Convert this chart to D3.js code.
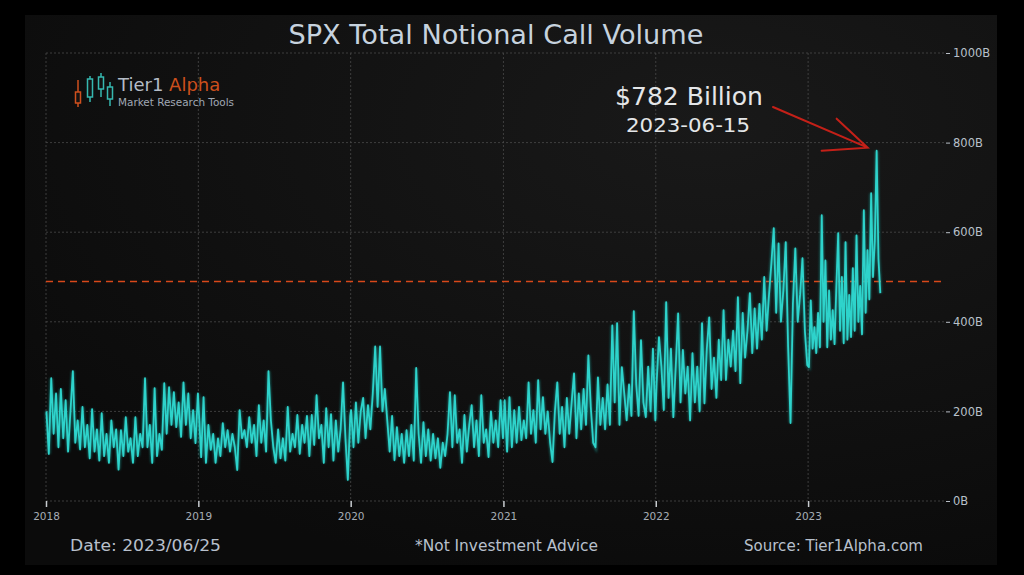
<!DOCTYPE html>
<html>
<head>
<meta charset="utf-8">
<script src="https://cdn.jsdelivr.net/npm/d3@7"></script>
<style>
  html, body { margin: 0; padding: 0; background: #000; }
  svg { display: block; }
</style>
</head>
<body>
<svg id="chart" width="1024" height="575"></svg>
<script>
// Daily SPX notional call volume (billions), spread across each year
const values2018 = [200, 105, 274, 150, 240, 120, 250, 140, 225, 110, 200, 290, 130, 180, 115, 210,
  120, 170, 95, 205, 110, 160, 90, 196, 100, 150, 85, 180, 120, 160, 70, 158,
  100, 187, 110, 140, 85, 187, 100, 150, 120, 274, 120, 170, 85, 252, 100, 150,
  114, 263, 150, 254, 170, 243, 165, 220, 143, 265, 170, 240, 140, 203, 129, 240];
const values2019 = [203, 98, 232, 85, 170, 114, 150, 85, 140, 100, 174, 120, 158, 110, 150, 120,
  69, 203, 140, 158, 120, 187, 130, 170, 100, 214, 130, 180, 110, 290, 180, 120,
  85, 160, 95, 140, 90, 210, 110, 150, 120, 192, 105, 170, 130, 190, 100, 192,
  125, 236, 140, 170, 85, 207, 120, 194, 90, 180, 110, 160, 265, 140, 47, 190];
const values2020 = [203, 120, 220, 130, 200, 230, 140, 214, 160, 240, 345, 210, 345, 200, 250, 180,
  110, 190, 91, 165, 100, 150, 85, 158, 100, 170, 90, 297, 150, 85, 176, 100,
  160, 90, 150, 95, 140, 74, 130, 100, 150, 243, 120, 236, 130, 160, 85, 192,
  110, 170, 214, 120, 180, 100, 236, 130, 160, 98, 200, 130, 180, 120, 225, 140];
const values2021 = [225, 110, 232, 120, 203, 130, 210, 136, 180, 140, 265, 150, 203, 130, 270, 160,
  232, 150, 200, 130, 87, 200, 265, 150, 210, 120, 230, 150, 220, 285, 140, 240,
  160, 250, 170, 325, 210, 130, 120, 276, 170, 230, 160, 260, 170, 392, 220, 397,
  170, 299, 240, 180, 260, 190, 424, 260, 190, 359, 220, 187, 300, 200, 340, 180];
const values2022 = [263, 366, 300, 203, 444, 230, 340, 187, 300, 419, 220, 337, 240, 300, 180, 330,
  220, 300, 200, 397, 218, 340, 410, 250, 320, 230, 360, 270, 426, 270, 360, 300,
  380, 290, 455, 263, 420, 320, 380, 464, 330, 430, 340, 440, 360, 500, 380, 460,
  531, 609, 420, 575, 400, 470, 578, 343, 174, 440, 564, 400, 460, 542, 380, 303];
const values2023 = [299, 448, 340, 388, 330, 420, 343, 638, 400, 537, 343, 470, 360, 426, 350, 480,
  598, 380, 500, 352, 578, 360, 460, 366, 520, 380, 593, 400, 480, 372, 649, 420,
  560, 450, 687, 500, 580, 782, 540, 464];

// first and last trading day covered by each year's array
const yearSpans = [
  ["2018-01-02", "2018-12-31", values2018],
  ["2019-01-02", "2019-12-31", values2019],
  ["2020-01-02", "2020-12-31", values2020],
  ["2021-01-04", "2021-12-31", values2021],
  ["2022-01-03", "2022-12-30", values2022],
  ["2023-01-03", "2023-06-23", values2023]
];

const yTicks = [0, 200, 400, 600, 800, 1000];
const xTickYears = [2018, 2019, 2020, 2021, 2022, 2023];
const refLevel = 490;          // red dashed reference line (B)
const peakLabel = "2023-06-15";

const parseDate = d3.timeParse("%Y-%m-%d");

// build the daily series
let series = [];
yearSpans.forEach(function ([start, end, vals]) {
  const t0 = parseDate(start).getTime();
  const t1 = parseDate(end).getTime();
  vals.forEach(function (v, i) {
    series.push({ date: new Date(t0 + (t1 - t0) * i / (vals.length - 1)), value: v });
  });
});

const svg = d3.select("#chart");
const W = 1024, H = 575;
const margin = { left: 46, right: 79, top: 53, bottom: 74 };

// background
const defs = svg.append("defs");
const grad = defs.append("radialGradient").attr("id", "bg").attr("cx", "70%").attr("cy", "20%").attr("r", "85%");
grad.append("stop").attr("offset", "0%").attr("stop-color", "#191919");
grad.append("stop").attr("offset", "100%").attr("stop-color", "#0b0b0b");
svg.append("rect").attr("width", W).attr("height", H).attr("fill", "#000");
svg.append("rect").attr("x", 25).attr("y", 15).attr("width", 972).attr("height", 550).attr("fill", "url(#bg)");

const glow = defs.append("filter").attr("id", "glow").attr("x", "-5%").attr("y", "-5%").attr("width", "110%").attr("height", "110%");
glow.append("feGaussianBlur").attr("stdDeviation", 1.2);

const x = d3.scaleTime()
  .domain([parseDate("2018-01-01"), parseDate("2023-11-25")])
  .range([margin.left, W - margin.right]);
const y = d3.scaleLinear()
  .domain([0, 1000])
  .range([H - margin.bottom, margin.top]);

// grid
const grid = svg.append("g");
grid.selectAll(".hg").data(yTicks).join("line")
  .attr("x1", margin.left).attr("x2", W - margin.right)
  .attr("y1", d => y(d)).attr("y2", d => y(d))
  .attr("stroke", "#4a4a4a").attr("stroke-width", 0.8).attr("stroke-dasharray", "2,2");
grid.selectAll(".vg").data(xTickYears).join("line")
  .attr("x1", d => x(new Date(d, 0, 1))).attr("x2", d => x(new Date(d, 0, 1)))
  .attr("y1", margin.top).attr("y2", y(0))
  .attr("stroke", "#4a4a4a").attr("stroke-width", 0.8).attr("stroke-dasharray", "2,2");

// axes
const xAxis = d3.axisBottom(x)
  .tickValues(xTickYears.map(d => new Date(d, 0, 1)))
  .tickFormat(d3.timeFormat("%Y"))
  .tickSize(6).tickPadding(6);
const gx = svg.append("g").attr("transform", `translate(0,${y(0)})`).call(xAxis);
gx.select(".domain").remove();
gx.selectAll("line").attr("stroke", "#c8ccd0").attr("stroke-width", 1.5);
gx.selectAll("text").attr("fill", "#a6adb5").attr("font-size", 10.5)
  .attr("font-family", "DejaVu Sans, sans-serif");

const yAxis = d3.axisRight(y)
  .tickValues(yTicks)
  .tickFormat(d => d + "B")
  .tickSize(4).tickPadding(3);
const gy = svg.append("g").attr("transform", `translate(${W - margin.right + 1},0)`).call(yAxis);
gy.select(".domain").remove();
gy.selectAll("line").attr("stroke", "#b8bec6");
gy.selectAll("text").attr("fill", "#b8c0ca").attr("font-size", 11.5)
  .attr("font-family", "DejaVu Sans, sans-serif");

// red dashed reference
svg.append("line")
  .attr("x1", margin.left).attr("x2", W - margin.right)
  .attr("y1", y(refLevel)).attr("y2", y(refLevel))
  .attr("stroke", "#d8481a").attr("stroke-width", 1.7).attr("stroke-dasharray", "7,5");

// series line
const line = d3.line().x(d => x(d.date)).y(d => y(d.value));
svg.append("path").datum(series).attr("d", line)
  .attr("fill", "none").attr("stroke", "#1fb8b0").attr("stroke-width", 3.2)
  .attr("stroke-opacity", 0.5).attr("filter", "url(#glow)");
svg.append("path").datum(series).attr("d", line)
  .attr("fill", "none").attr("stroke", "#2ed3cb").attr("stroke-width", 1.8)
  .attr("stroke-linejoin", "round");

// title
svg.append("text").attr("x", 496).attr("y", 44).attr("text-anchor", "middle")
  .attr("font-family", "DejaVu Sans, sans-serif").attr("font-size", 27)
  .attr("textLength", 415).attr("lengthAdjust", "spacingAndGlyphs")
  .attr("fill", "#c6d2de").text("SPX Total Notional Call Volume");

// logo
const logo = svg.append("g");
const candles = [
  { cx: 78, w1: 80, w2: 107, b1: 92, b2: 103, c: "#d0501e" },
  { cx: 90, w1: 76, w2: 102, b1: 79, b2: 97, c: "#36b8b0" },
  { cx: 101, w1: 73, w2: 97, b1: 77, b2: 89, c: "#36b8b0" },
  { cx: 110, w1: 82, w2: 106, b1: 87, b2: 99, c: "#36b8b0" }
];
candles.forEach(function (k) {
  logo.append("line").attr("x1", k.cx).attr("x2", k.cx).attr("y1", k.w1).attr("y2", k.w2)
    .attr("stroke", k.c).attr("stroke-width", 1.5);
  logo.append("rect").attr("x", k.cx - 2.5).attr("y", k.b1).attr("width", 5).attr("height", k.b2 - k.b1)
    .attr("fill", "#131313").attr("stroke", k.c).attr("stroke-width", 1.5);
});
const brand = logo.append("text").attr("x", 118).attr("y", 91)
  .attr("font-family", "DejaVu Sans, sans-serif").attr("font-size", 18);
brand.append("tspan").attr("fill", "#b4bcc6").text("Tier1 ");
brand.append("tspan").attr("fill", "#cc4f1c").text("Alpha");
logo.append("text").attr("x", 118).attr("y", 106)
  .attr("font-family", "DejaVu Sans, sans-serif").attr("font-size", 10)
  .attr("textLength", 116).attr("lengthAdjust", "spacingAndGlyphs")
  .attr("fill", "#a0a8b4").text("Market  Research Tools");

// peak annotation
const peak = series.reduce((a, b) => (b.value > a.value ? b : a));
const px = x(peak.date), py = y(peak.value);
const ann = svg.append("g");
ann.append("text").attr("x", 689).attr("y", 105).attr("text-anchor", "middle")
  .attr("font-family", "DejaVu Sans, sans-serif").attr("font-size", 24)
  .attr("textLength", 148).attr("lengthAdjust", "spacingAndGlyphs")
  .attr("fill", "#e4e6e8").text("$" + peak.value + " Billion");
ann.append("text").attr("x", 688).attr("y", 132).attr("text-anchor", "middle")
  .attr("font-family", "DejaVu Sans, sans-serif").attr("font-size", 19)
  .attr("textLength", 124).attr("lengthAdjust", "spacingAndGlyphs")
  .attr("fill", "#e4e6e8").text(peakLabel);
const tipX = px - 9, tipY = py - 3;
ann.append("path")
  .attr("d", `M773,107 L${tipX},${tipY} M${tipX - 31},${tipY - 29} L${tipX},${tipY} L${tipX - 46},${tipY + 3}`)
  .attr("fill", "none").attr("stroke", "#c42018").attr("stroke-width", 2).attr("stroke-linecap", "round");

// footer
const foot = svg.append("g").attr("font-family", "DejaVu Sans, sans-serif").attr("font-size", 15).attr("fill", "#b8c0cc");
foot.append("text").attr("x", 70).attr("y", 551)
  .attr("textLength", 151).attr("lengthAdjust", "spacingAndGlyphs").text("Date: 2023/06/25");
foot.append("text").attr("x", 415).attr("y", 551)
  .attr("textLength", 183).attr("lengthAdjust", "spacingAndGlyphs").text("*Not Investment Advice");
foot.append("text").attr("x", 744).attr("y", 551)
  .attr("textLength", 179).attr("lengthAdjust", "spacingAndGlyphs").text("Source: Tier1Alpha.com");
</script>
</body>
</html>
